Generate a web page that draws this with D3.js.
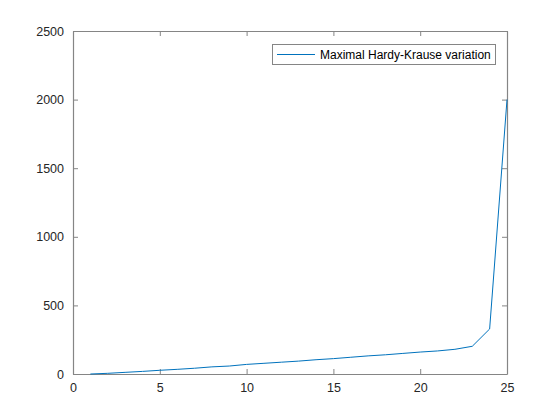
<!DOCTYPE html>
<html>
<head>
<meta charset="utf-8">
<script src="https://cdn.jsdelivr.net/npm/d3@7"></script>
<style>
  body { margin: 0; background: #fff; }
  svg { font-family: Arial, "Liberation Sans", sans-serif; }
</style>
</head>
<body>
<div id="graphicContainer"></div>
<script>
// values
var xValues = [1, 2, 3, 4, 5, 6, 7, 8, 9, 10, 11, 12, 13, 14, 15, 16, 17, 18, 19, 20, 21, 22, 23, 24, 25];
var variation = [0, 5, 12, 19, 27, 34, 42, 52, 58, 70, 78, 86, 94, 104, 112, 122, 132, 140, 150, 160, 168, 180, 202, 328, 2000];
var xTicks = [0, 5, 10, 15, 20, 25];
var yTicks = [0, 500, 1000, 1500, 2000, 2500];
var seriesName = "Maximal Hardy-Krause variation";

var width = 560, height = 420;
var margin = {top: 31, right: 53, bottom: 46, left: 73};
var w = width - margin.left - margin.right,
    h = height - margin.top - margin.bottom;

var svg = d3.select("#graphicContainer").append("svg")
  .attr("width", width)
  .attr("height", height);

var g = svg.append("g").attr("transform", "translate(" + margin.left + "," + margin.top + ")");

var x = d3.scaleLinear().domain([0, 25]).range([0, w]);
var y = d3.scaleLinear().domain([0, 2500]).range([h, 0]);

var axisColor = "#858585";

// bottom + left axes, ticks pointing inwards like matlab
var xAxis = g.append("g")
  .attr("transform", "translate(0," + h + ")")
  .call(d3.axisBottom(x).tickValues(xTicks).tickFormat(d3.format("d")).tickSizeInner(-5).tickSizeOuter(0).tickPadding(9));
var yAxis = g.append("g")
  .call(d3.axisLeft(y).tickValues(yTicks).tickFormat(d3.format("d")).tickSizeInner(-5).tickSizeOuter(0).tickPadding(9));

// top + right box with ticks
g.append("g")
  .call(d3.axisTop(x).tickValues(xTicks).tickSizeInner(-5).tickSizeOuter(0).tickFormat(""));
g.append("g")
  .attr("transform", "translate(" + w + ",0)")
  .call(d3.axisRight(y).tickValues(yTicks).tickSizeInner(-5).tickSizeOuter(0).tickFormat(""));

g.selectAll(".domain, .tick line").attr("stroke", axisColor);
g.selectAll(".domain").attr("stroke-width", 1.2);
g.selectAll(".tick text")
  .attr("fill", "#262626")
  .style("font-size", "12.5px");

var line = d3.line()
  .x((d, i) => x(xValues[i]))
  .y(d => y(d));

g.append("path")
  .datum(variation)
  .attr("fill", "none")
  .attr("stroke", "#0072BD")
  .attr("stroke-width", 1)
  .attr("d", line);

// legend
var legend = svg.append("g").attr("transform", "translate(272,44)");
legend.append("rect")
  .attr("x", 0.5).attr("y", 0.5)
  .attr("width", 223).attr("height", 20)
  .attr("fill", "#fff")
  .attr("stroke", axisColor);
legend.append("line")
  .attr("x1", 5).attr("x2", 43)
  .attr("y1", 10.5).attr("y2", 10.5)
  .attr("stroke", "#0072BD");
legend.append("text")
  .attr("x", 48).attr("y", 15)
  .attr("fill", "#000")
  .style("font-size", "12px")
  .text(seriesName);
</script>
</body>
</html>
